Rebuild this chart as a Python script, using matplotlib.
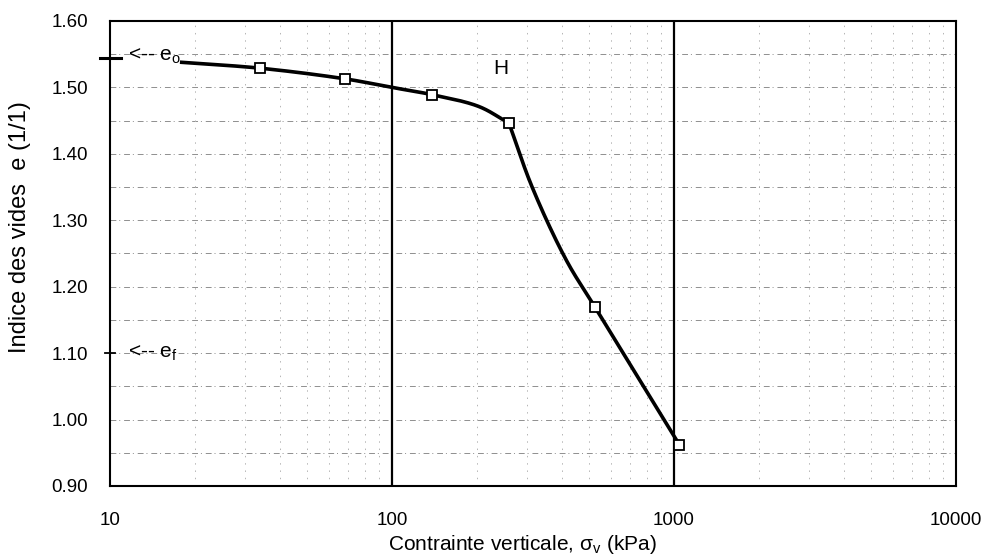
import numpy as np
import matplotlib
matplotlib.use("Agg")
import matplotlib.pyplot as plt
from matplotlib.ticker import FixedLocator, NullFormatter, LogLocator

plt.rcParams['font.family'] = ['Liberation Sans', 'DejaVu Sans']

# Oedometer test: measured void ratio at each load step
loads_kpa = [34, 68, 139, 260, 525, 1045]
void_ratio = [1.529, 1.513, 1.489, 1.446, 1.169, 0.962]

# Traced compression curve: recompression branch, then virgin branch
recomp_kpa = [17.7, 34, 68, 100, 139, 204, 260]
recomp_e = [1.538, 1.529, 1.513, 1.500, 1.489, 1.471, 1.446]
virgin_kpa = [260, 314, 415, 525, 1045]
virgin_e = [1.446, 1.350, 1.240, 1.169, 0.962]

e0 = 1.544
ef = 1.10

x_ticks = [10, 100, 1000, 10000]
x_tick_labels = ["10", "100", "1000", "10000"]
y_ticks = [0.90, 1.00, 1.10, 1.20, 1.30, 1.40, 1.50, 1.60]

# pixel scale of one decade / one unit of e, used to smooth in display-like space
SX, SY = 282.5, 664.0


def smooth_curve(xs, ys, n=40, alpha=0.5):
    """Centripetal Catmull-Rom smoothing in (log10 x, y) space."""
    P = np.column_stack([np.log10(np.asarray(xs, float)) * SX, np.asarray(ys, float) * SY])
    P = np.vstack([2 * P[0] - P[1], P, 2 * P[-1] - P[-2]])
    out = []
    for i in range(1, len(P) - 2):
        p0, p1, p2, p3 = P[i - 1], P[i], P[i + 1], P[i + 2]
        t0 = 0.0
        t1 = t0 + np.linalg.norm(p1 - p0) ** alpha
        t2 = t1 + np.linalg.norm(p2 - p1) ** alpha
        t3 = t2 + np.linalg.norm(p3 - p2) ** alpha
        t = np.linspace(t1, t2, n)[:, None]
        a1 = (t1 - t) / (t1 - t0) * p0 + (t - t0) / (t1 - t0) * p1
        a2 = (t2 - t) / (t2 - t1) * p1 + (t - t1) / (t2 - t1) * p2
        a3 = (t3 - t) / (t3 - t2) * p2 + (t - t2) / (t3 - t2) * p3
        b1 = (t2 - t) / (t2 - t0) * a1 + (t - t0) / (t2 - t0) * a2
        b2 = (t3 - t) / (t3 - t1) * a2 + (t - t1) / (t3 - t1) * a3
        c = (t2 - t) / (t2 - t1) * b1 + (t - t1) / (t2 - t1) * b2
        out.append(c if i == 1 else c[1:])
    out = np.vstack(out)
    return 10 ** (out[:, 0] / SX), out[:, 1] / SY


fig = plt.figure(figsize=(9.87, 5.57), dpi=100)
ax = fig.add_axes([110 / 987, 1 - 486 / 557, (956 - 110) / 987, (486 - 21) / 557])

ax.set_xscale('log')
ax.set_xlim(10, 10000)
ax.set_ylim(0.90, 1.60)

# faint gridlines
for yv in np.arange(0.95, 1.60, 0.05):
    ax.axhline(yv, color='#8f8f8f', lw=0.7, ls=(0, (6, 3, 1, 4)), zorder=1)
for dec in [10, 100, 1000]:
    for m in range(2, 10):
        ax.axvline(dec * m, color='#b5b5b5', lw=0.7, ls=(0, (1.5, 6)), zorder=1)
for xv in [100, 1000]:
    ax.axvline(xv, color='black', lw=1.6, zorder=2)

# compression curve and data points
x1, y1 = smooth_curve(recomp_kpa, recomp_e)
x2, y2 = smooth_curve(virgin_kpa, virgin_e)
ax.plot(np.concatenate([x1, x2[1:]]), np.concatenate([y1, y2[1:]]),
        color='black', lw=2.6, zorder=3, solid_capstyle='butt', solid_joinstyle='round')
ax.plot(loads_kpa, void_ratio, ls='none', marker='s', ms=6.5, mfc='white',
        mec='black', mew=1.3, zorder=4)

# initial / final void ratio marks on the axis
ax.plot([9.2, 10.9], [e0, e0], color='black', lw=2.2, clip_on=False, zorder=5)
ax.plot([10, 10], [e0 - 0.012, e0 + 0.012], color='black', lw=1.2, clip_on=False, zorder=5)
ax.plot([9.6, 10.4], [ef, ef], color='black', lw=1.3, clip_on=False, zorder=5)
ax.text(11.6, e0 + 0.003, r"<-- e$_\mathregular{o}$", fontsize=15, va='center', ha='left')
ax.text(11.6, ef, r"<-- e$_\mathregular{f}$", fontsize=15, va='center', ha='left')

ax.text(244, 1.529, "H", fontsize=15, ha='center', va='center')

ax.xaxis.set_major_locator(FixedLocator(x_ticks))
ax.set_xticklabels(x_tick_labels)
ax.xaxis.set_minor_locator(LogLocator(base=10, subs=np.arange(2, 10)))
ax.xaxis.set_minor_formatter(NullFormatter())
ax.set_yticks(y_ticks)
ax.set_yticklabels([f"{v:.2f}" for v in y_ticks])
ax.tick_params(axis='both', which='both', length=0, labelsize=13.5, colors='black')
ax.tick_params(axis='x', pad=19)
ax.tick_params(axis='y', pad=16)

for sp in ax.spines.values():
    sp.set_linewidth(1.5)
    sp.set_color('black')

fig.text(522 / 987, 1 - 545 / 557, r"Contrainte verticale, $\mathregular{\sigma_v}$ (kPa)",
         fontsize=15, ha='center', va='center')
fig.text(20 / 987, 1 - 227 / 557, "Indice des vides  e (1/1)", rotation=90,
         fontsize=17, ha='center', va='center')

fig.savefig("out.png", dpi=100, facecolor='white')
